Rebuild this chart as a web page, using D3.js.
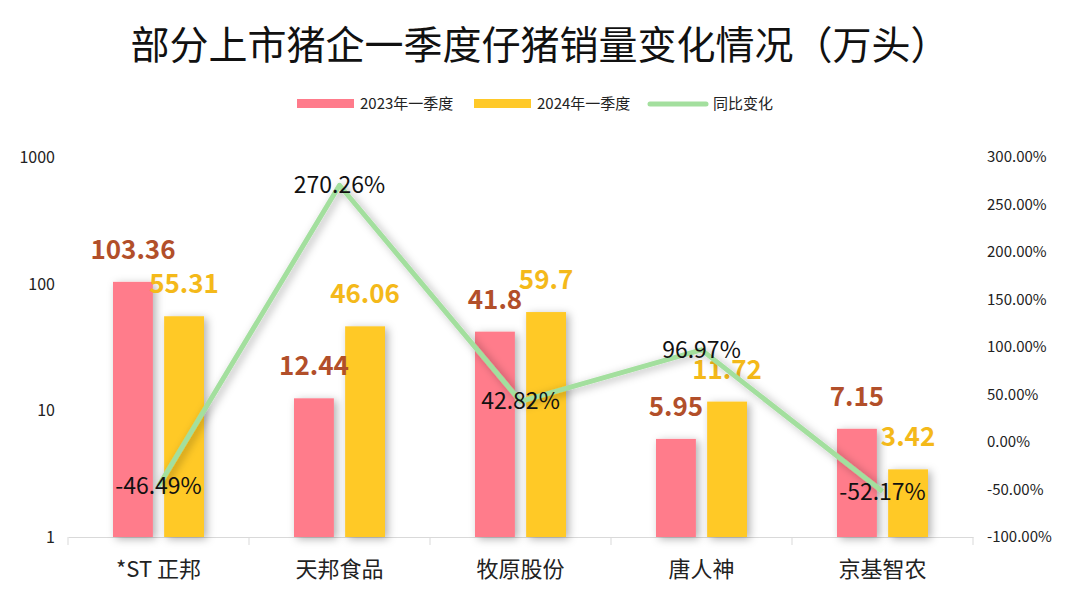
<!DOCTYPE html>
<html>
<head>
<meta charset="utf-8">
<title>部分上市猪企一季度仔猪销量变化情况（万头）</title>
<style>
  body { margin: 0; background: #fff; }
  svg { display: block; font-family: "Noto Sans CJK SC", "Noto Sans", sans-serif; }
</style>
</head>
<body>
<div id="chart"></div>
<script src="https://cdn.jsdelivr.net/npm/d3@7"></script>
<script>
// data
var companies = ["*ST 正邦", "天邦食品", "牧原股份", "唐人神", "京基智农"];
var sales2023 = [103.36, 12.44, 41.8, 5.95, 7.15];
var sales2024 = [55.31, 46.06, 59.7, 11.72, 3.42];
var yoyChange = [-0.4649, 2.7026, 0.4282, 0.9697, -0.5217];
var seriesNames = ["2023年一季度", "2024年一季度", "同比变化"];
var leftTicks = [1, 10, 100, 1000];
var rightTicks = [-1, -0.5, 0, 0.5, 1, 1.5, 2, 2.5, 3];

var W = 1080, H = 602;
var margin = {top: 157, right: 107, bottom: 65, left: 68};
var pink = "#ff7b8b", yellow = "#ffc928", green = "#a3df9e";

// plain hyphen for negatives, like the original
var pct = d3.formatLocale({decimal: ".", thousands: ",", grouping: [3], currency: ["", ""], minus: "-"})
    .format(".2f");
function fmtPct(d) { return pct(d * 100) + "%"; }

var svg = d3.select("#chart").append("svg")
    .attr("width", W).attr("height", H);

var defs = svg.append("defs");
var sh = defs.append("filter").attr("id", "shadow")
    .attr("x", "-30%").attr("y", "-30%").attr("width", "170%").attr("height", "170%");
sh.append("feDropShadow").attr("dx", 3).attr("dy", 2).attr("stdDeviation", 4)
    .attr("flood-color", "#000").attr("flood-opacity", 0.3);

var x = d3.scaleBand().domain(companies).range([margin.left, W - margin.right]);
var x1 = d3.scaleBand().domain([0, 1]).range([0, 91]).paddingInner(0.22);
var y = d3.scaleLog().domain([1, 1000]).range([H - margin.bottom, margin.top]);
var y2 = d3.scaleLinear().domain([-1, 3]).range([H - margin.bottom, margin.top]);

// title
svg.append("text").attr("x", W / 2).attr("y", 59).attr("text-anchor", "middle")
    .style("font-size", "39px").style("fill", "#111").text("部分上市猪企一季度仔猪销量变化情况（万头）");

// legend
var legend = svg.append("g").style("font-size", "15px").style("fill", "#222");
var lx = [297, 474, 648];
legend.append("rect").attr("x", lx[0]).attr("y", 99).attr("width", 57).attr("height", 9).style("fill", pink);
legend.append("text").attr("x", lx[0] + 63).attr("y", 109).text(seriesNames[0]);
legend.append("rect").attr("x", lx[1]).attr("y", 99).attr("width", 57).attr("height", 9).style("fill", yellow);
legend.append("text").attr("x", lx[1] + 63).attr("y", 109).text(seriesNames[1]);
legend.append("line").attr("x1", lx[2] + 2).attr("x2", lx[2] + 58).attr("y1", 104).attr("y2", 104)
    .style("stroke", green).style("stroke-width", 5).style("stroke-linecap", "round");
legend.append("text").attr("x", lx[2] + 65).attr("y", 109).text(seriesNames[2]);

// left axis labels
svg.append("g").selectAll("text").data(leftTicks).join("text")
    .attr("x", 55).attr("y", function(d) { return y(d) + 6; })
    .attr("text-anchor", "end").style("font-size", "16px").style("fill", "#222")
    .text(function(d) { return d; });

// right axis labels
svg.append("g").selectAll("text").data(rightTicks).join("text")
    .attr("x", 987).attr("y", function(d) { return y2(d) + 5; })
    .style("font-size", "15px").style("fill", "#222")
    .text(fmtPct);

// x axis
var xAxis = svg.append("g").attr("transform", "translate(0," + (H - margin.bottom) + ")")
    .call(d3.axisBottom(x).tickSize(0).tickPadding(24));
xAxis.select(".domain").style("stroke", "#d9d9d9");
xAxis.selectAll(".tick text").style("font-size", "22px").style("fill", "#222")
    .style("font-family", "Noto Sans CJK SC, sans-serif");
xAxis.selectAll(".bound").data(d3.range(companies.length + 1)).join("line")
    .attr("x1", function(i) { return margin.left + i * x.bandwidth(); })
    .attr("x2", function(i) { return margin.left + i * x.bandwidth(); })
    .attr("y1", 0).attr("y2", 8).style("stroke", "#d9d9d9");

// bars
var offset = (x.bandwidth() - 91) / 2;
var groups = svg.append("g").selectAll("g").data(companies).join("g")
    .attr("transform", function(d) { return "translate(" + (x(d) + offset) + ",0)"; });

groups.append("rect")
    .attr("x", x1(0)).attr("width", x1.bandwidth())
    .attr("y", function(d, i) { return y(sales2023[i]); })
    .attr("height", function(d, i) { return y(1) - y(sales2023[i]); })
    .style("fill", pink).attr("filter", "url(#shadow)");
groups.append("rect")
    .attr("x", x1(1)).attr("width", x1.bandwidth())
    .attr("y", function(d, i) { return y(sales2024[i]); })
    .attr("height", function(d, i) { return y(1) - y(sales2024[i]); })
    .style("fill", yellow).attr("filter", "url(#shadow)");

// line
var line = d3.line()
    .x(function(d, i) { return x(companies[i]) + x.bandwidth() / 2; })
    .y(function(d) { return y2(d); });
svg.append("path").datum(yoyChange).attr("d", line)
    .style("fill", "none").style("stroke", green).style("stroke-width", 5)
    .style("stroke-linejoin", "round").attr("filter", "url(#shadow)");

// bar labels
groups.append("text")
    .attr("x", x1(0) + x1.bandwidth() / 2)
    .attr("y", function(d, i) { return y(sales2023[i]) - 23; })
    .attr("text-anchor", "middle").style("font-size", "26px").style("font-weight", "bold")
    .style("fill", "#b24f2a").text(function(d, i) { return sales2023[i]; });
groups.append("text")
    .attr("x", x1(1) + x1.bandwidth() / 2)
    .attr("y", function(d, i) { return y(sales2024[i]) - 23; })
    .attr("text-anchor", "middle").style("font-size", "26px").style("font-weight", "bold")
    .style("fill", "#f4b91a").text(function(d, i) { return sales2024[i]; });

// line labels
svg.append("g").selectAll("text").data(yoyChange).join("text")
    .attr("x", function(d, i) { return x(companies[i]) + x.bandwidth() / 2; })
    .attr("y", function(d) { return y2(d) + 8; })
    .attr("text-anchor", "middle").style("font-size", "23px").style("fill", "#111")
    .text(fmtPct);
</script>
</body>
</html>
